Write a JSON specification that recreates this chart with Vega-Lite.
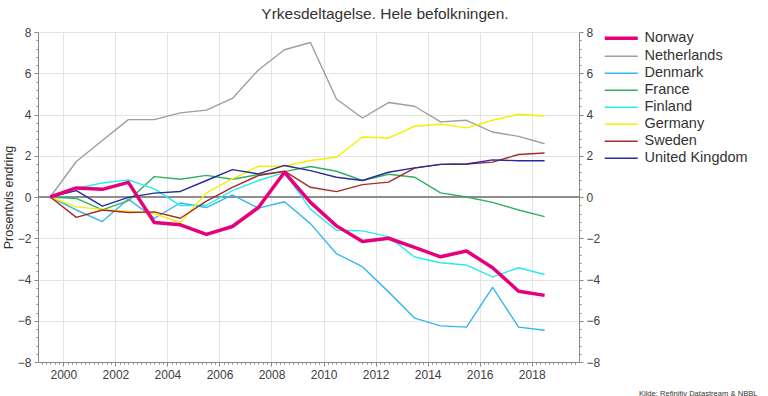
{
  "$schema": "https://vega.github.io/schema/vega-lite/v6.json",
  "width": 541,
  "height": 330,
  "autosize": "none",
  "padding": {"left": 38, "top": 32, "right": 189, "bottom": 34},
  "background": "white",
  "config": {
    "font": "Liberation Sans",
    "view": {"stroke": null},
    "axis": {"labelFont": "Liberation Sans", "labelColor": "#404040", "labelFontSize": 12, "domainColor": "#8a8a8a", "tickColor": "#8a8a8a", "titleFont": "Liberation Sans", "titleFontWeight": "normal", "titleColor": "#333333"}
  },
  "title": {"text": "Yrkesdeltagelse. Hele befolkningen.", "fontSize": 15.5, "fontWeight": "normal", "color": "#333333", "anchor": "middle", "frame": "group", "dx": 76.5, "dy": 8, "baseline": "alphabetic", "offset": 0},
  "datasets": {
    "zero": [{"v": 0}],
    "series": [
      {"c": "Netherlands", "d": "1999-07-01", "v": 0}, {"c": "Netherlands", "d": "2000-07-01", "v": 1.72}, {"c": "Netherlands", "d": "2001-07-01", "v": 2.74}, {"c": "Netherlands", "d": "2002-07-01", "v": 3.75}, {"c": "Netherlands", "d": "2003-07-01", "v": 3.75}, {"c": "Netherlands", "d": "2004-07-01", "v": 4.08}, {"c": "Netherlands", "d": "2005-07-01", "v": 4.21}, {"c": "Netherlands", "d": "2006-07-01", "v": 4.78}, {"c": "Netherlands", "d": "2007-07-01", "v": 6.16}, {"c": "Netherlands", "d": "2008-07-01", "v": 7.14}, {"c": "Netherlands", "d": "2009-07-01", "v": 7.49}, {"c": "Netherlands", "d": "2010-07-01", "v": 4.75}, {"c": "Netherlands", "d": "2011-07-01", "v": 3.83}, {"c": "Netherlands", "d": "2012-07-01", "v": 4.58}, {"c": "Netherlands", "d": "2013-07-01", "v": 4.40}, {"c": "Netherlands", "d": "2014-07-01", "v": 3.64}, {"c": "Netherlands", "d": "2015-07-01", "v": 3.72}, {"c": "Netherlands", "d": "2016-07-01", "v": 3.15}, {"c": "Netherlands", "d": "2017-07-01", "v": 2.94}, {"c": "Netherlands", "d": "2018-07-01", "v": 2.58},
      {"c": "Denmark", "d": "1999-07-01", "v": 0}, {"c": "Denmark", "d": "2000-07-01", "v": -0.63}, {"c": "Denmark", "d": "2001-07-01", "v": -1.19}, {"c": "Denmark", "d": "2002-07-01", "v": -0.1}, {"c": "Denmark", "d": "2003-07-01", "v": -1.03}, {"c": "Denmark", "d": "2004-07-01", "v": -0.29}, {"c": "Denmark", "d": "2005-07-01", "v": -0.51}, {"c": "Denmark", "d": "2006-07-01", "v": 0.1}, {"c": "Denmark", "d": "2007-07-01", "v": -0.54}, {"c": "Denmark", "d": "2008-07-01", "v": -0.23}, {"c": "Denmark", "d": "2009-07-01", "v": -1.29}, {"c": "Denmark", "d": "2010-07-01", "v": -2.75}, {"c": "Denmark", "d": "2011-07-01", "v": -3.38}, {"c": "Denmark", "d": "2012-07-01", "v": -4.6}, {"c": "Denmark", "d": "2013-07-01", "v": -5.87}, {"c": "Denmark", "d": "2014-07-01", "v": -6.25}, {"c": "Denmark", "d": "2015-07-01", "v": -6.31}, {"c": "Denmark", "d": "2016-07-01", "v": -4.38}, {"c": "Denmark", "d": "2017-07-01", "v": -6.31}, {"c": "Denmark", "d": "2018-07-01", "v": -6.46},
      {"c": "France", "d": "1999-07-01", "v": 0}, {"c": "France", "d": "2000-07-01", "v": -0.07}, {"c": "France", "d": "2001-07-01", "v": -0.62}, {"c": "France", "d": "2002-07-01", "v": -0.18}, {"c": "France", "d": "2003-07-01", "v": 0.99}, {"c": "France", "d": "2004-07-01", "v": 0.86}, {"c": "France", "d": "2005-07-01", "v": 1.05}, {"c": "France", "d": "2006-07-01", "v": 0.86}, {"c": "France", "d": "2007-07-01", "v": 1.09}, {"c": "France", "d": "2008-07-01", "v": 1.23}, {"c": "France", "d": "2009-07-01", "v": 1.48}, {"c": "France", "d": "2010-07-01", "v": 1.25}, {"c": "France", "d": "2011-07-01", "v": 0.8}, {"c": "France", "d": "2012-07-01", "v": 1.1}, {"c": "France", "d": "2013-07-01", "v": 0.96}, {"c": "France", "d": "2014-07-01", "v": 0.2}, {"c": "France", "d": "2015-07-01", "v": 0.0}, {"c": "France", "d": "2016-07-01", "v": -0.26}, {"c": "France", "d": "2017-07-01", "v": -0.63}, {"c": "France", "d": "2018-07-01", "v": -0.95},
      {"c": "Finland", "d": "1999-07-01", "v": 0}, {"c": "Finland", "d": "2000-07-01", "v": 0.42}, {"c": "Finland", "d": "2001-07-01", "v": 0.68}, {"c": "Finland", "d": "2002-07-01", "v": 0.83}, {"c": "Finland", "d": "2003-07-01", "v": 0.39}, {"c": "Finland", "d": "2004-07-01", "v": -0.42}, {"c": "Finland", "d": "2005-07-01", "v": -0.4}, {"c": "Finland", "d": "2006-07-01", "v": 0.31}, {"c": "Finland", "d": "2007-07-01", "v": 0.8}, {"c": "Finland", "d": "2008-07-01", "v": 1.18}, {"c": "Finland", "d": "2009-07-01", "v": -0.59}, {"c": "Finland", "d": "2010-07-01", "v": -1.61}, {"c": "Finland", "d": "2011-07-01", "v": -1.64}, {"c": "Finland", "d": "2012-07-01", "v": -1.92}, {"c": "Finland", "d": "2013-07-01", "v": -2.91}, {"c": "Finland", "d": "2014-07-01", "v": -3.19}, {"c": "Finland", "d": "2015-07-01", "v": -3.3}, {"c": "Finland", "d": "2016-07-01", "v": -3.87}, {"c": "Finland", "d": "2017-07-01", "v": -3.43}, {"c": "Finland", "d": "2018-07-01", "v": -3.76},
      {"c": "Germany", "d": "1999-07-01", "v": 0}, {"c": "Germany", "d": "2000-07-01", "v": -0.48}, {"c": "Germany", "d": "2001-07-01", "v": -0.6}, {"c": "Germany", "d": "2002-07-01", "v": -0.7}, {"c": "Germany", "d": "2003-07-01", "v": -0.8}, {"c": "Germany", "d": "2004-07-01", "v": -1.25}, {"c": "Germany", "d": "2005-07-01", "v": 0.2}, {"c": "Germany", "d": "2006-07-01", "v": 0.88}, {"c": "Germany", "d": "2007-07-01", "v": 1.49}, {"c": "Germany", "d": "2008-07-01", "v": 1.49}, {"c": "Germany", "d": "2009-07-01", "v": 1.77}, {"c": "Germany", "d": "2010-07-01", "v": 1.93}, {"c": "Germany", "d": "2011-07-01", "v": 2.91}, {"c": "Germany", "d": "2012-07-01", "v": 2.86}, {"c": "Germany", "d": "2013-07-01", "v": 3.43}, {"c": "Germany", "d": "2014-07-01", "v": 3.53}, {"c": "Germany", "d": "2015-07-01", "v": 3.35}, {"c": "Germany", "d": "2016-07-01", "v": 3.72}, {"c": "Germany", "d": "2017-07-01", "v": 4.01}, {"c": "Germany", "d": "2018-07-01", "v": 3.93},
      {"c": "Sweden", "d": "1999-07-01", "v": 0}, {"c": "Sweden", "d": "2000-07-01", "v": -0.99}, {"c": "Sweden", "d": "2001-07-01", "v": -0.63}, {"c": "Sweden", "d": "2002-07-01", "v": -0.75}, {"c": "Sweden", "d": "2003-07-01", "v": -0.72}, {"c": "Sweden", "d": "2004-07-01", "v": -1.03}, {"c": "Sweden", "d": "2005-07-01", "v": -0.2}, {"c": "Sweden", "d": "2006-07-01", "v": 0.47}, {"c": "Sweden", "d": "2007-07-01", "v": 1.04}, {"c": "Sweden", "d": "2008-07-01", "v": 1.25}, {"c": "Sweden", "d": "2009-07-01", "v": 0.47}, {"c": "Sweden", "d": "2010-07-01", "v": 0.26}, {"c": "Sweden", "d": "2011-07-01", "v": 0.6}, {"c": "Sweden", "d": "2012-07-01", "v": 0.72}, {"c": "Sweden", "d": "2013-07-01", "v": 1.4}, {"c": "Sweden", "d": "2014-07-01", "v": 1.58}, {"c": "Sweden", "d": "2015-07-01", "v": 1.6}, {"c": "Sweden", "d": "2016-07-01", "v": 1.69}, {"c": "Sweden", "d": "2017-07-01", "v": 2.06}, {"c": "Sweden", "d": "2018-07-01", "v": 2.13},
      {"c": "United Kingdom", "d": "1999-07-01", "v": 0}, {"c": "United Kingdom", "d": "2000-07-01", "v": 0.31}, {"c": "United Kingdom", "d": "2001-07-01", "v": -0.44}, {"c": "United Kingdom", "d": "2002-07-01", "v": -0.02}, {"c": "United Kingdom", "d": "2003-07-01", "v": 0.19}, {"c": "United Kingdom", "d": "2004-07-01", "v": 0.27}, {"c": "United Kingdom", "d": "2005-07-01", "v": 0.8}, {"c": "United Kingdom", "d": "2006-07-01", "v": 1.33}, {"c": "United Kingdom", "d": "2007-07-01", "v": 1.12}, {"c": "United Kingdom", "d": "2008-07-01", "v": 1.53}, {"c": "United Kingdom", "d": "2009-07-01", "v": 1.28}, {"c": "United Kingdom", "d": "2010-07-01", "v": 0.96}, {"c": "United Kingdom", "d": "2011-07-01", "v": 0.8}, {"c": "United Kingdom", "d": "2012-07-01", "v": 1.2}, {"c": "United Kingdom", "d": "2013-07-01", "v": 1.41}, {"c": "United Kingdom", "d": "2014-07-01", "v": 1.58}, {"c": "United Kingdom", "d": "2015-07-01", "v": 1.6}, {"c": "United Kingdom", "d": "2016-07-01", "v": 1.8}, {"c": "United Kingdom", "d": "2017-07-01", "v": 1.76}, {"c": "United Kingdom", "d": "2018-07-01", "v": 1.76},
      {"c": "Norway", "d": "1999-07-01", "v": 0}, {"c": "Norway", "d": "2000-07-01", "v": 0.44}, {"c": "Norway", "d": "2001-07-01", "v": 0.37}, {"c": "Norway", "d": "2002-07-01", "v": 0.71}, {"c": "Norway", "d": "2003-07-01", "v": -1.24}, {"c": "Norway", "d": "2004-07-01", "v": -1.35}, {"c": "Norway", "d": "2005-07-01", "v": -1.81}, {"c": "Norway", "d": "2006-07-01", "v": -1.43}, {"c": "Norway", "d": "2007-07-01", "v": -0.51}, {"c": "Norway", "d": "2008-07-01", "v": 1.2}, {"c": "Norway", "d": "2009-07-01", "v": -0.26}, {"c": "Norway", "d": "2010-07-01", "v": -1.4}, {"c": "Norway", "d": "2011-07-01", "v": -2.16}, {"c": "Norway", "d": "2012-07-01", "v": -2.0}, {"c": "Norway", "d": "2013-07-01", "v": -2.44}, {"c": "Norway", "d": "2014-07-01", "v": -2.9}, {"c": "Norway", "d": "2015-07-01", "v": -2.62}, {"c": "Norway", "d": "2016-07-01", "v": -3.43}, {"c": "Norway", "d": "2017-07-01", "v": -4.57}, {"c": "Norway", "d": "2018-07-01", "v": -4.77}
    ]
  },
  "layer": [
    {
      "data": {"name": "zero"},
      "mark": {"type": "rule", "color": "#8c8c8c", "strokeWidth": 1.5},
      "encoding": {
        "y": {"field": "v", "type": "quantitative", "scale": {"domain": [-8, 8], "nice": false, "zero": false},
          "axis": {"orient": "left", "values": [-8, -6, -4, -2, 0, 2, 4, 6, 8], "grid": true, "gridColor": "#e4e4e4", "gridWidth": 1, "tickSize": 4, "labelPadding": 3, "title": "Prosentvis endring", "titleFontSize": 12.5, "titlePadding": 2}}
      }
    },
    {
      "data": {"name": "zero"},
      "mark": {"type": "rule", "color": "#8c8c8c", "strokeWidth": 1.5},
      "encoding": {
        "y": {"field": "v", "type": "quantitative", "scale": {"domain": [-8, 8], "nice": false, "zero": false},
          "axis": {"orient": "right", "values": [-8, -6, -4, -2, 0, 2, 4, 6, 8], "grid": false, "tickSize": 4, "labelPadding": 3, "title": null}}
      }
    },
    {
      "data": {"name": "zero"},
      "mark": {"type": "rule", "color": "#8c8c8c", "strokeWidth": 1.5},
      "encoding": {
        "y": {"field": "v", "type": "quantitative", "scale": {"domain": [-8, 8], "nice": false, "zero": false},
          "axis": {"orient": "left", "values": [-7.6, -7.2, -6.8, -6.4, -5.6, -5.2, -4.8, -4.4, -3.6, -3.2, -2.8, -2.4, -1.6, -1.2, -0.8, -0.4, 0.4, 0.8, 1.2, 1.6, 2.4, 2.8, 3.2, 3.6, 4.4, 4.8, 5.2, 5.6, 6.4, 6.8, 7.2, 7.6], "grid": false, "domain": false, "labels": false, "tickSize": 2, "title": null}}
      }
    },
    {
      "data": {"name": "zero"},
      "mark": {"type": "rule", "color": "#8c8c8c", "strokeWidth": 1.5},
      "encoding": {
        "y": {"field": "v", "type": "quantitative", "scale": {"domain": [-8, 8], "nice": false, "zero": false},
          "axis": {"orient": "right", "values": [-7.6, -7.2, -6.8, -6.4, -5.6, -5.2, -4.8, -4.4, -3.6, -3.2, -2.8, -2.4, -1.6, -1.2, -0.8, -0.4, 0.4, 0.8, 1.2, 1.6, 2.4, 2.8, 3.2, 3.6, 4.4, 4.8, 5.2, 5.6, 6.4, 6.8, 7.2, 7.6], "grid": false, "domain": false, "labels": false, "tickSize": 2, "title": null}}
      }
    },
    {
      "data": {"name": "series"},
      "mark": {"type": "point", "opacity": 0},
      "encoding": {
        "x": {"field": "d", "type": "temporal", "scale": {"domain": [{"year": 1999, "month": 1, "date": 10}, {"year": 2019, "month": 10, "date": 27}], "nice": false},
          "axis": {"orient": "bottom", "tickCount": {"interval": "month", "step": 2}, "labels": false, "domain": false, "grid": false, "tickSize": 2,
            "title": "Kilde: Refinitiv Datastream & NBBL", "titleFontSize": 7.6, "titleColor": "#333333", "titleAnchor": "end", "titleAlign": "right", "titleX": 719, "titleY": 33, "titleBaseline": "alphabetic"}},
        "y": {"field": "v", "type": "quantitative", "scale": {"domain": [-8, 8], "nice": false, "zero": false}, "axis": null}
      }
    },
    {
      "data": {"name": "series"},
      "mark": {"type": "line", "strokeJoin": "round"},
      "encoding": {
        "x": {"field": "d", "type": "temporal", "scale": {"domain": [{"year": 1999, "month": 1, "date": 10}, {"year": 2019, "month": 10, "date": 27}], "nice": false},
          "axis": {"orient": "bottom", "values": [{"year": 2000, "month": 1, "date": 1}, {"year": 2002, "month": 1, "date": 1}, {"year": 2004, "month": 1, "date": 1}, {"year": 2006, "month": 1, "date": 1}, {"year": 2008, "month": 1, "date": 1}, {"year": 2010, "month": 1, "date": 1}, {"year": 2012, "month": 1, "date": 1}, {"year": 2014, "month": 1, "date": 1}, {"year": 2016, "month": 1, "date": 1}, {"year": 2018, "month": 1, "date": 1}], "format": "%Y", "grid": true, "gridColor": "#e4e4e4", "tickSize": 4, "labelPadding": 3, "title": null}},
        "y": {"field": "v", "type": "quantitative", "scale": {"domain": [-8, 8], "nice": false, "zero": false}, "axis": null},
        "color": {"field": "c", "type": "nominal",
          "scale": {"domain": ["Norway", "Netherlands", "Denmark", "France", "Finland", "Germany", "Sweden", "United Kingdom"],
                    "range": ["#E6007E", "#A39E93", "#35B6EE", "#30B060", "#22EEEE", "#F5F000", "#A52A2A", "#2A2A9A"]},
          "legend": {"title": null, "orient": "none", "legendX": 576, "legendY": -1, "symbolType": "stroke", "symbolSize": 1089, "symbolStrokeWidth": 1.5, "labelFontSize": 14.5, "labelColor": "#333333", "labelFont": "Liberation Sans", "rowPadding": 2.0, "labelOffset": 16,
            "encode": {"symbols": {"update": {"strokeWidth": {"signal": "datum.value === 'Norway' ? 3.5 : 1.5"}}}}}},
        "strokeWidth": {"condition": {"test": "datum.c === 'Norway'", "value": 3.5}, "value": 1.4}
      }
    }
  ],
  "resolve": {"axis": {"x": "independent", "y": "independent"}}
}
